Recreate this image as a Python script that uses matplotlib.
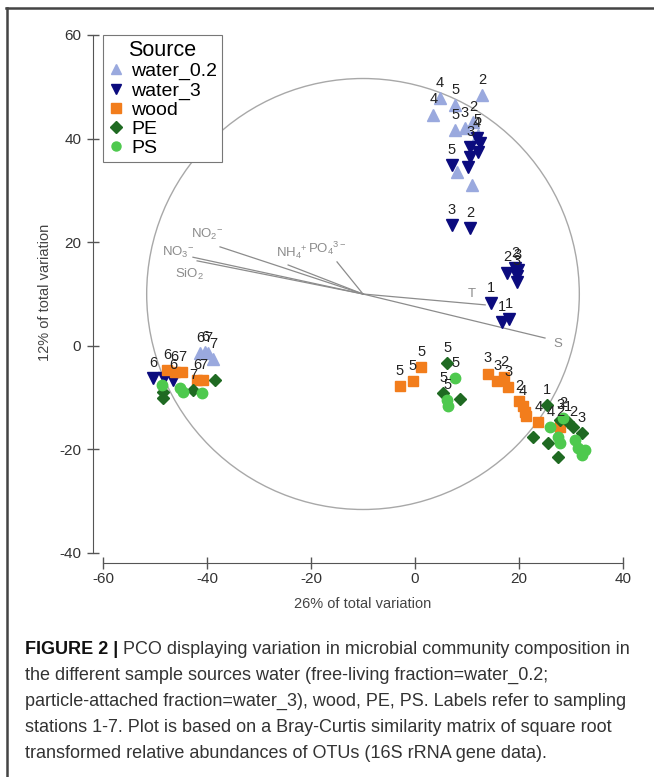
import matplotlib
matplotlib.use("Agg")
import matplotlib.pyplot as plt
from matplotlib.lines import Line2D
from matplotlib.patches import Circle

plt.rcParams["font.family"] = ["Liberation Sans", "DejaVu Sans"]
plt.rcParams["mathtext.fontset"] = "custom"
plt.rcParams["mathtext.rm"] = "Liberation Sans"
plt.rcParams["mathtext.it"] = "Liberation Sans"
plt.rcParams["axes.unicode_minus"] = False

# --- data (PCO scores) -----------------------------------------------------
w02_x = [4.8, 3.5, 7.7, 12.9, 7.7, 9.6, 11.2, 12.1, 8.1, 11.0, -41.3, -40.4, -39.8, -38.8]
w02_y = [47.8, 44.6, 46.5, 48.4, 41.7, 42.0, 43.2, 40.6, 33.6, 31.0, -1.4, -1.2, -1.4, -2.6]
w02_lab = ["4", "4", "5", "2", "5", "3", "2", "5", "", "", "6", "6", "7", "7"]

w3_x = [11.9, 12.5, 10.6, 12.1, 10.6, 7.1, 10.2, 7.1, 10.6, 17.7, 19.2, 19.8, 19.6, 19.6,
        14.6, 16.7, 18.1, -50.4, -46.5, -48.2]
w3_y = [40.1, 39.2, 38.4, 37.4, 36.4, 34.9, 34.5, 23.3, 22.7, 14.1, 15.0, 14.6, 13.5, 12.3,
        8.3, 4.6, 5.2, -6.2, -6.6, -6.3]
w3_lab = ["4", "", "3", "", "", "5", "", "3", "2", "2", "2", "3", "3", "",
          "1", "1", "1", "6", "6", ""]

wood_x = [-47.7, -46.2, -44.8, -41.9, -40.8, -2.9, -0.4, 1.2, 14.0, 15.8, 17.1, 17.9,
          20.0, 20.8, 21.2, 21.3, 23.7, 27.9]
wood_y = [-4.7, -5.1, -5.1, -6.6, -6.6, -7.8, -6.8, -4.1, -5.4, -6.8, -6.0, -8.0,
          -10.7, -11.6, -12.8, -13.6, -14.7, -15.7]
wood_lab = ["6", "6", "7", "6", "7", "5", "5", "5", "3", "3", "2", "3",
            "2", "4", "", "", "4", "2"]

pe_x = [-48.5, -48.5, -42.7, -38.5, 6.2, 5.4, 8.7, 25.4, 22.7, 25.6, 27.5, 27.9, 30.4, 32.1, 29.5]
pe_y = [-8.9, -10.1, -8.5, -6.6, -3.3, -9.1, -10.3, -11.4, -17.6, -18.8, -21.5, -14.3, -15.7, -16.8, -14.8]
pe_lab = ["", "", "7", "", "5", "5", "", "1", "", "", "", "3", "2", "3", "1"]

ps_x = [-48.7, -45.2, -44.6, -41.0, 7.7, 6.2, 6.3, 26.0, 27.5, 27.9, 30.8, 31.3, 32.1, 32.7, 28.5]
ps_y = [-7.6, -8.1, -8.9, -9.1, -6.2, -10.5, -11.6, -15.7, -17.6, -18.8, -18.2, -19.7, -21.1, -20.1, -14.0]
ps_lab = ["", "", "", "", "5", "5", "", "4", "", "", "", "", "", "", "2"]

# environmental vectors (start at circle centre)
vec_names = [r"NO$_2$$^{-}$", r"NO$_3$$^{-}$", r"SiO$_2$", r"NH$_4$$^{+}$", r"PO$_4$$^{3-}$", "T", "S"]
vec_x = [-37.5, -42.7, -41.9, -24.4, -15.0, 13.5, 25.0]
vec_y = [19.1, 17.1, 16.4, 15.6, 16.2, 7.9, 1.5]
vec_lx = [-40.0, -45.6, -43.3, -23.7, -16.9, 11.0, 27.5]
vec_ly = [21.4, 18.1, 13.7, 17.9, 18.9, 10.0, 0.3]
circ_x, circ_y, circ_r = -10.0, 10.0, 41.6

caption = [
    " PCO displaying variation in microbial community composition in",
    "the different sample sources water (free-living fraction=water_0.2;",
    "particle-attached fraction=water_3), wood, PE, PS. Labels refer to sampling",
    "stations 1-7. Plot is based on a Bray-Curtis similarity matrix of square root",
    "transformed relative abundances of OTUs (16S rRNA gene data).",
]

groups = [
    ("water_0.2", w02_x, w02_y, w02_lab, "^", "#9aa9de", 8),
    ("water_3", w3_x, w3_y, w3_lab, "v", "#0b0b7e", 8),
    ("wood", wood_x, wood_y, wood_lab, "s", "#f27d1c", 7),
    ("PE", pe_x, pe_y, pe_lab, "D", "#1f6a22", 6.5),
    ("PS", ps_x, ps_y, ps_lab, "o", "#4ec94e", 7.5),
]

fig = plt.figure(figsize=(6.54, 7.77), dpi=100)
ax = fig.add_axes([103 / 654, 224 / 777, 520 / 654, 518 / 777])
ax.set_xlim(-60, 40)
ax.set_ylim(-40, 60)

ax.add_patch(Circle((circ_x, circ_y), circ_r, fill=False, ec="#a8a8a8", lw=1.0, zorder=1))
for name, ex, ey, lx, ly in zip(vec_names, vec_x, vec_y, vec_lx, vec_ly):
    ax.plot([circ_x, ex], [circ_y, ey], color="#8c8c8c", lw=0.9, zorder=1)
    ax.text(lx, ly, name, color="#8c8c8c", fontsize=9.5, ha="center", va="center", zorder=1)

handles = []
for name, xs, ys, labs, mk, col, ms in groups:
    ax.plot(xs, ys, ls="none", marker=mk, ms=ms, color=col, mec=col, zorder=3)
    handles.append(Line2D([], [], ls="none", marker=mk, ms=6.5, color=col, label=name))
for name, xs, ys, labs, mk, col, ms in groups:
    for x, y, lab in zip(xs, ys, labs):
        if lab:
            ax.annotate(lab, (x, y), xytext=(0, 11), textcoords="offset points",
                        ha="center", va="center", fontsize=10.5, color="#222222", zorder=4)

for s in ("top", "right"):
    ax.spines[s].set_visible(False)
ax.spines["left"].set_position(("outward", 7.2))
ax.spines["bottom"].set_position(("outward", 7.2))
ax.spines["left"].set_bounds(-40, 60)
ax.spines["bottom"].set_bounds(-60, 40)
for s in ("left", "bottom"):
    ax.spines[s].set_color("#555555")
ax.set_xticks([-60, -40, -20, 0, 20, 40])
ax.set_yticks([-40, -20, 0, 20, 40, 60])
ax.tick_params(direction="inout", length=9, width=1, color="#555555",
               labelsize=11, labelcolor="#333333")
ax.tick_params(axis="y", pad=4)
ax.tick_params(axis="x", pad=2)

leg = ax.legend(handles=handles, title="Source", loc="upper left", bbox_to_anchor=(0.0, 1.0),
                borderaxespad=0, fontsize=14, title_fontsize=15.5, frameon=True, fancybox=False,
                edgecolor="#777777", framealpha=1, handlelength=0.8, handletextpad=0.4,
                labelspacing=0.08, borderpad=0.25)
leg.get_frame().set_linewidth(0.8)
leg.set_zorder(10)

fig.text(363 / 654, 1 - 604 / 777, "26% of total variation", ha="center", va="center",
         fontsize=10.5, color="#444444")
fig.text(45 / 654, 1 - 292 / 777, "12% of total variation", ha="center", va="center",
         rotation=90, fontsize=10.5, color="#444444")

# caption
cap_y = [649, 675, 701, 727, 753]
cap_fs = 13.0
head = fig.text(25 / 654, 1 - cap_y[0] / 777, "FIGURE 2 |", fontsize=cap_fs, fontweight="bold",
                color="#111111", va="center", ha="left")
ax.annotate(caption[0], xy=(1, 0), xycoords=head, va="bottom", ha="left",
            fontsize=cap_fs, color="#333333", annotation_clip=False)
for yy, line in zip(cap_y[1:], caption[1:]):
    fig.text(25 / 654, 1 - yy / 777, line, fontsize=cap_fs, color="#333333", va="center", ha="left")

# page frame (top and left rules)
fig.add_artist(Line2D([6 / 654, 1.0], [1 - 8 / 777, 1 - 8 / 777], color="#444444", lw=1.8))
fig.add_artist(Line2D([7 / 654, 7 / 654], [1 - 8 / 777, 0.0], color="#444444", lw=1.8))

fig.savefig("out.png", dpi=100)
